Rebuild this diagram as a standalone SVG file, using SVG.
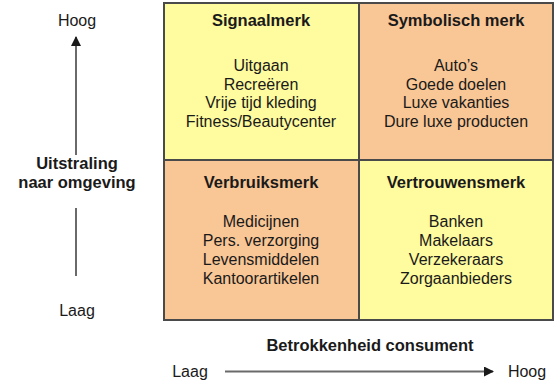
<svg xmlns="http://www.w3.org/2000/svg" width="557" height="383" viewBox="0 0 557 383">
<defs>
<style>
text{font-family:"Liberation Sans",Arial,sans-serif;font-size:16px;fill:#1a1a1a;text-anchor:middle}
.b{font-weight:bold;font-size:16.5px}
.y{fill:#FFFB9F}
.o{fill:#F9C696}
.grid{stroke:#4a4a4a;stroke-width:2;fill:none}
.ax{stroke:#6a6a6a;stroke-width:2;fill:none}
</style>
<marker id="ah" viewBox="0 0 10 10" refX="9" refY="5" markerWidth="6" markerHeight="5" orient="auto" markerUnits="strokeWidth">
<path d="M0,0 L10,5 L0,10 z" fill="#1a1a1a"/>
</marker>
</defs>
<rect width="557" height="383" fill="#ffffff"/>
<g id="signaalmerk">
<rect class="y" x="164" y="3" width="195" height="157"/>
<text class="b" x="261" y="26">Signaalmerk</text>
<text x="261" y="71">Uitgaan</text>
<text x="261" y="89.5">Recreëren</text>
<text x="261" y="108">Vrije tijd kleding</text>
<text x="261" y="126.5">Fitness/Beautycenter</text>
</g>
<g id="symbolisch">
<rect class="o" x="359" y="3" width="194" height="157"/>
<text class="b" x="456" y="26">Symbolisch merk</text>
<text x="456" y="71">Auto’s</text>
<text x="456" y="89.5">Goede doelen</text>
<text x="456" y="108">Luxe vakanties</text>
<text x="456" y="126.5">Dure luxe producten</text>
</g>
<g id="verbruiksmerk">
<rect class="o" x="164" y="160" width="195" height="160"/>
<text class="b" x="261" y="188">Verbruiksmerk</text>
<text x="261" y="227">Medicijnen</text>
<text x="261" y="246">Pers. verzorging</text>
<text x="261" y="265">Levensmiddelen</text>
<text x="261" y="284">Kantoorartikelen</text>
</g>
<g id="vertrouwensmerk">
<rect class="y" x="359" y="160" width="194" height="160"/>
<text class="b" x="456" y="188">Vertrouwensmerk</text>
<text x="456" y="227">Banken</text>
<text x="456" y="246">Makelaars</text>
<text x="456" y="265">Verzekeraars</text>
<text x="456" y="284">Zorgaanbieders</text>
</g>
<g id="grid">
<rect class="grid" x="164" y="3" width="389" height="317"/>
<line class="grid" x1="359" y1="3" x2="359" y2="320"/>
<line class="grid" x1="164" y1="160" x2="553" y2="160"/>
</g>
<g id="y-axis">
<text x="77" y="26">Hoog</text>
<text class="b" x="77" y="169">Uitstraling</text>
<text class="b" x="77" y="188">naar omgeving</text>
<text x="77" y="316">Laag</text>
</g>
<g id="x-axis">
<text class="b" x="370" y="351">Betrokkenheid consument</text>
<text x="190" y="377">Laag</text>
<text x="527" y="377">Hoog</text>
</g>
<g id="connectors">
<line class="ax" x1="76" y1="155" x2="76" y2="37" marker-end="url(#ah)"/>
<line class="ax" x1="76" y1="208" x2="76" y2="276"/>
<line class="ax" x1="225" y1="371.5" x2="493" y2="371.5" marker-end="url(#ah)"/>
</g>
</svg>
